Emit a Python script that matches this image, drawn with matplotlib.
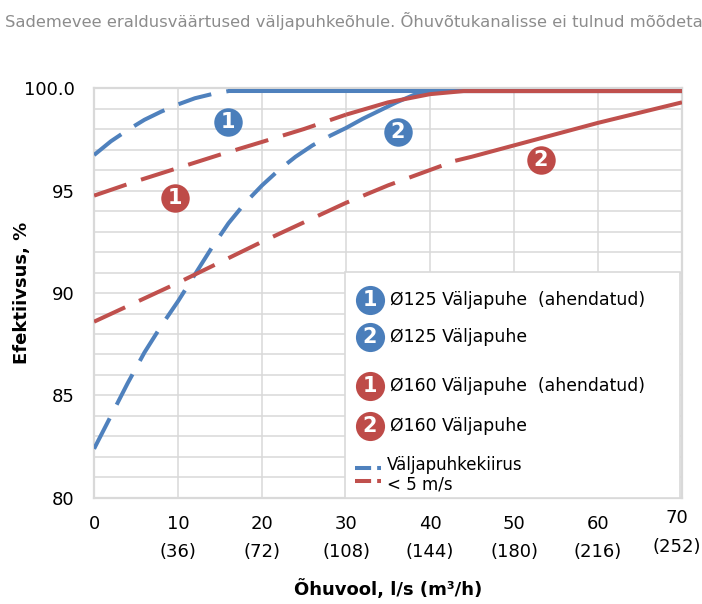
import matplotlib.pyplot as plt
from matplotlib.patches import Rectangle
from matplotlib.transforms import ScaledTranslation

# data
b1_x = [0, 2, 4, 6, 8, 10, 12, 14, 16, 20, 30, 40, 50, 60, 70]
b1_y = [96.73, 97.4, 97.95, 98.45, 98.85, 99.2, 99.5, 99.7, 99.85, 99.85, 99.85, 99.85, 99.85, 99.85, 99.85]
b1_dash_end = 8  # index where the curve turns solid

b2_x = [0, 2, 4, 6, 8, 10, 12, 14, 16, 18, 20, 22, 24, 26, 28, 30, 32, 34, 36, 38, 40, 50, 60, 70]
b2_y = [82.4, 84.0, 85.6, 87.1, 88.4, 89.6, 90.9, 92.2, 93.4, 94.4, 95.25, 96.0, 96.65, 97.2, 97.65,
        98.05, 98.5, 98.9, 99.3, 99.65, 99.85, 99.85, 99.85, 99.85]
b2_dash_end = 14

r1_x = [0, 5, 10, 15, 20, 25, 30, 35, 40, 44, 50, 60, 70]
r1_y = [94.75, 95.45, 96.1, 96.75, 97.37, 98.0, 98.7, 99.3, 99.7, 99.85, 99.85, 99.85, 99.85]
r1_dash_end = 6

r2_x = [0, 5, 10, 15, 20, 25, 30, 35, 40, 43, 45, 50, 55, 60, 65, 70]
r2_y = [88.6, 89.55, 90.5, 91.5, 92.5, 93.45, 94.4, 95.25, 96.0, 96.45, 96.65, 97.2, 97.75, 98.3, 98.8, 99.3]
r2_dash_end = 9

# badge positions (x, y) on the curves
badge_nums = ['1', '2', '1', '2']
badge_x = [15.95, 36.2, 9.64, 53.2]
badge_y = [98.34, 97.85, 94.63, 96.49]

legend_labels = ['Ø125 Väljapuhe  (ahendatud)', 'Ø125 Väljapuhe',
                 'Ø160 Väljapuhe  (ahendatud)', 'Ø160 Väljapuhe']

x_ticks = [0, 10, 20, 30, 40, 50, 60, 70]
x_ticklabels = ['0', '10\n(36)', '20\n(72)', '30\n(108)', '40\n(144)', '50\n(180)', '60\n(216)', '70\n(252)']
y_ticks = [80, 85, 90, 95, 100]
y_ticklabels = ['80', '85', '90', '95', '100.0']

blue = '#4F81BD'
red = '#C0504D'
badge_colors = ['#4A7EBB', '#4A7EBB', '#BE4B48', '#BE4B48']
grid_c = '#d9d9d9'

plt.rcParams['font.family'] = ['DejaVu Sans']

fig = plt.figure(figsize=(7.02, 6.04), dpi=100)
ax = fig.add_axes([0.134, 0.1755, 0.8375, 0.6788])

lw = 2.9
dash = (8.5, 3.8)


def draw(xs, ys, idx, color):
    ax.plot(xs[:idx + 1], ys[:idx + 1], color=color, lw=lw, dashes=dash,
            dash_capstyle='butt', zorder=3)
    ax.plot(xs[idx:], ys[idx:], color=color, lw=lw, solid_capstyle='butt', zorder=3)


draw(b1_x, b1_y, b1_dash_end, blue)
draw(b2_x, b2_y, b2_dash_end, blue)
draw(r1_x, r1_y, r1_dash_end, red)
draw(r2_x, r2_y, r2_dash_end, red)

for n, bx, by, c in zip(badge_nums, badge_x, badge_y, badge_colors):
    ax.scatter(bx, by, s=420, color=c, zorder=5, linewidths=0)
    ax.text(bx, by, n, color='white', fontsize=15, fontweight='bold',
            ha='center', va='center', zorder=6)

ax.set_xlim(0, 70)
ax.set_ylim(80, 100)
ax.set_xticks(x_ticks)
ax.set_xticklabels(x_ticklabels, fontsize=13, linespacing=1.75)
ax.set_yticks(y_ticks)
ax.set_yticklabels(y_ticklabels, fontsize=13)
ax.set_yticks(range(80, 101), minor=True)
ax.tick_params(axis='both', which='both', length=0)
ax.tick_params(axis='x', pad=12)
ax.tick_params(axis='y', pad=14)
ax.grid(True, which='both', color=grid_c, lw=1.1, zorder=0)
ax.set_axisbelow(True)
for s in ax.spines.values():
    s.set_color(grid_c)
    s.set_linewidth(1.6)

last = ax.get_xticklabels()[-1]
last.set_transform(last.get_transform() + ScaledTranslation(-4 / 72, 4 / 72, fig.dpi_scale_trans))

ax.set_ylabel('Efektiivsus, %', fontsize=13, fontweight='bold')
ax.yaxis.set_label_coords(-0.108, 0.5)
ax.set_xlabel('Õhuvool, l/s (m³/h)', fontsize=13, fontweight='bold', labelpad=13)

# legend box
ax.add_patch(Rectangle((0.427, 0.0), 0.57, 0.551, transform=ax.transAxes,
                       facecolor='white', edgecolor=grid_c, lw=1.2, zorder=4))
leg_y = [0.483, 0.393, 0.273, 0.176]
for n, ly, c, lab in zip(badge_nums, leg_y, badge_colors, legend_labels):
    ax.scatter(0.469, ly, s=440, color=c, transform=ax.transAxes, zorder=5,
               linewidths=0, clip_on=False)
    ax.text(0.469, ly, n, color='white', fontsize=15, fontweight='bold',
            ha='center', va='center', transform=ax.transAxes, zorder=6)
    ax.text(0.503, ly, lab, fontsize=12.4, ha='left', va='center',
            transform=ax.transAxes, zorder=6)

ax.plot([0.444, 0.488], [0.073, 0.073], color=blue, lw=lw, dashes=(4.0, 1.5),
        transform=ax.transAxes, zorder=6)
ax.plot([0.444, 0.488], [0.041, 0.041], color=red, lw=lw, dashes=(4.0, 1.5),
        transform=ax.transAxes, zorder=6)
ax.text(0.498, 0.080, 'Väljapuhkekiirus', fontsize=12, ha='left', va='center',
        transform=ax.transAxes, zorder=6)
ax.text(0.498, 0.034, '< 5 m/s', fontsize=12, ha='left', va='center',
        transform=ax.transAxes, zorder=6)

fig.text(0.007, 0.966, 'Sademevee eraldusväärtused väljapuhkeõhule. Õhuvõtukanalisse ei tulnud mõõdeta',
         fontsize=11.8, color='#8c8c8c', ha='left', va='center')

fig.savefig('out.png', dpi=100)
